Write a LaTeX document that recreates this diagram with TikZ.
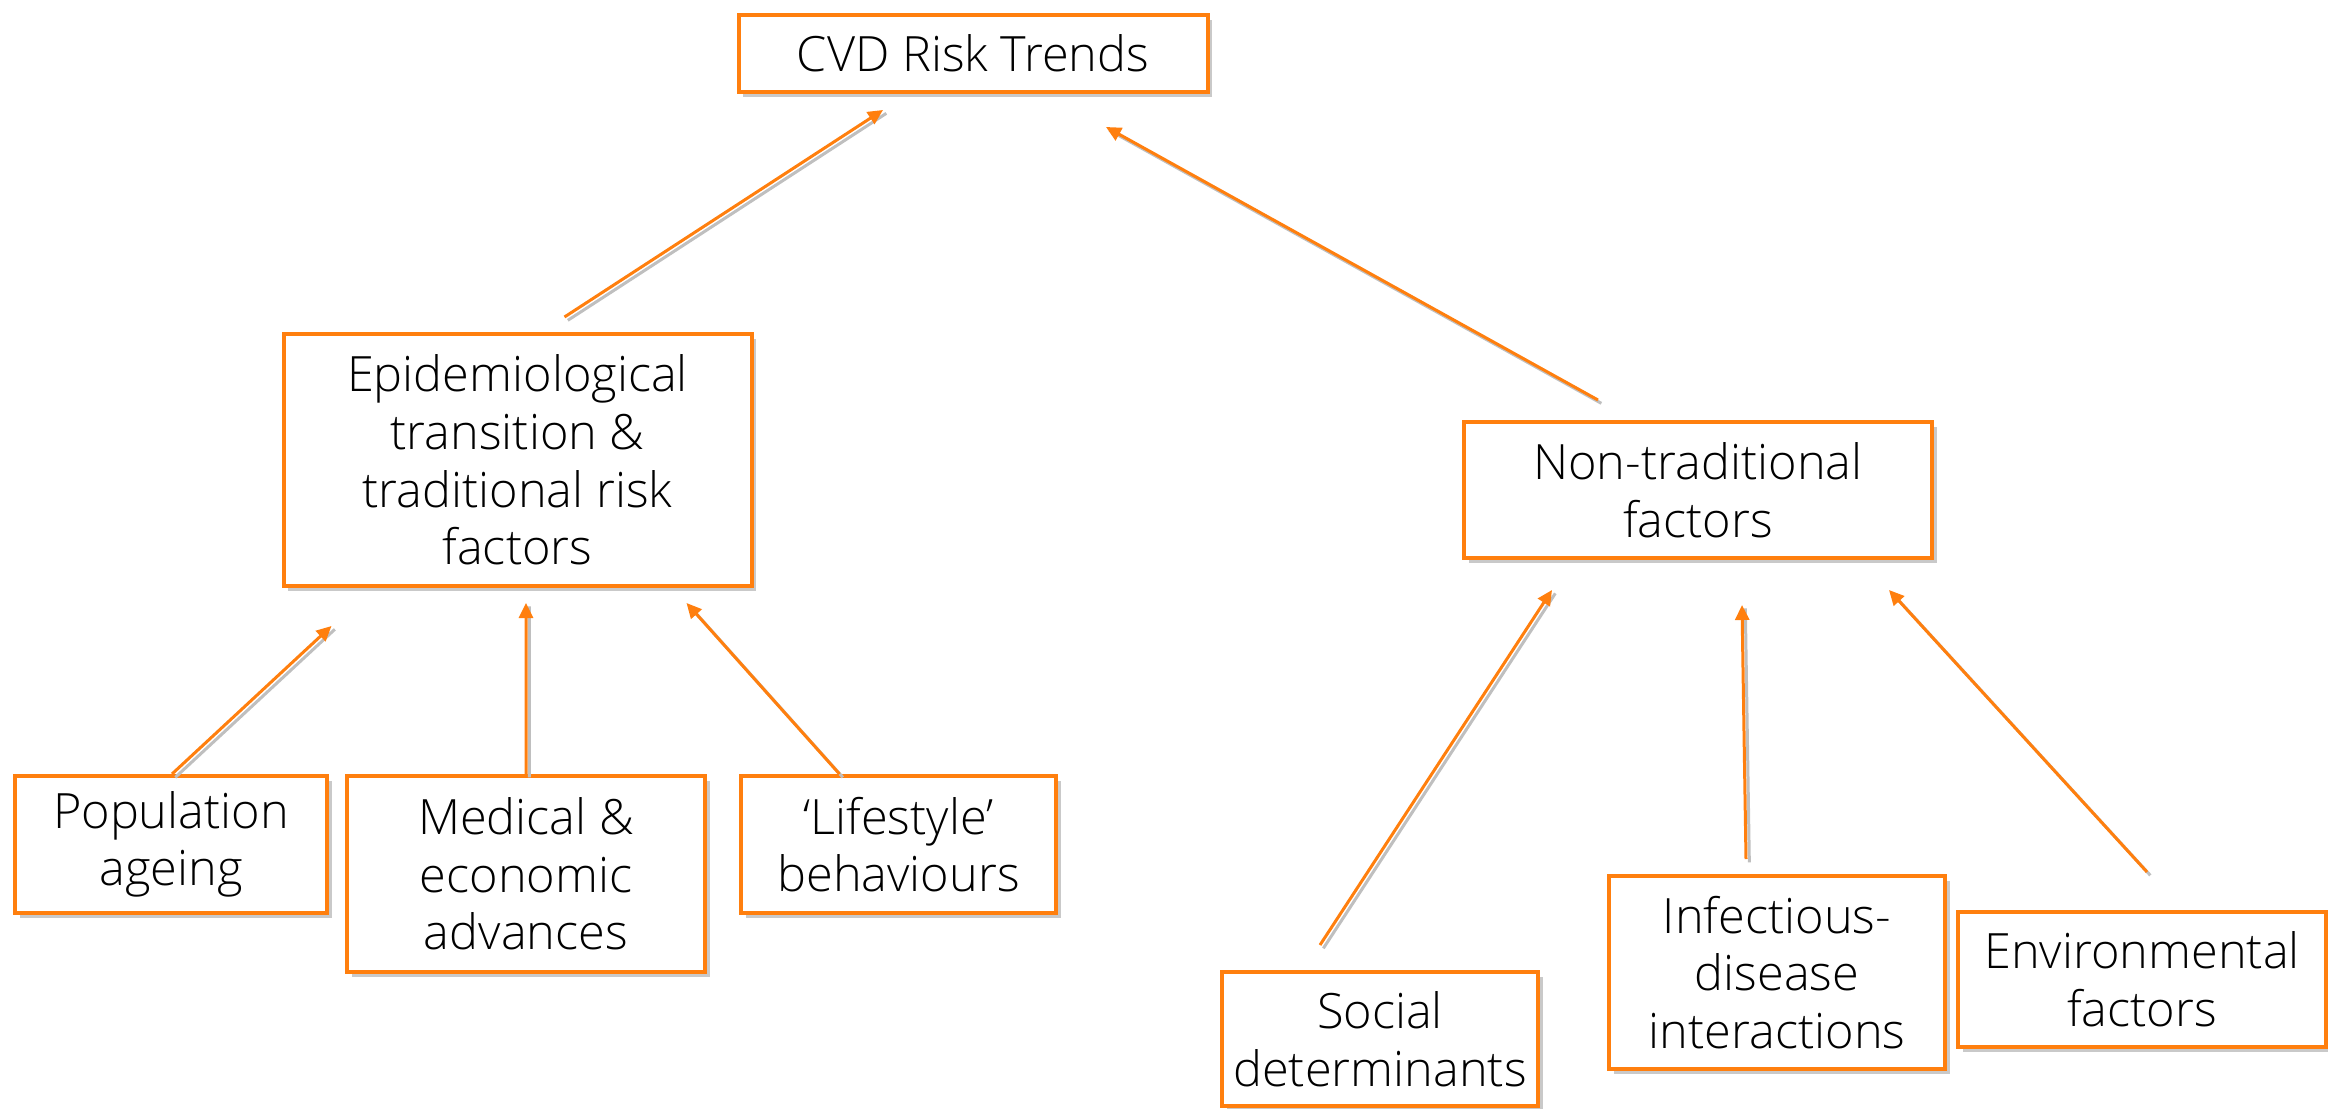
\documentclass[tikz,border=0pt]{standalone}
\usepackage{fontspec}
\setmainfont{Open Sans Light}
\usetikzlibrary{arrows.meta,shadows,calc}
\definecolor{boxorange}{RGB}{255,127,14}
\begin{document}
\begin{tikzpicture}[x=0.3pt,y=-0.3pt,
  box/.style={draw=boxorange, line width=1.2pt, fill=white, inner sep=0pt, align=center,
    font=\fontsize{14.6pt}{17.3pt}\selectfont,
    drop shadow={shadow xshift=1.4pt,shadow yshift=-1.4pt,opacity=0.3,fill=black!70}},
  link/.style={draw=boxorange, line width=0.9pt, -{Triangle[length=4.5pt,width=4.2pt]}}]
\useasboundingbox (0,0) rectangle (2328,1109);

\node[box, minimum width=140.7pt, minimum height=23.1pt] (cvd) at (973,53.5) {CVD Risk Trends};
\node[box, minimum width=140.4pt, minimum height=75.6pt] (epi) at (517.5,460) {Epidemiological\\transition \&\\traditional risk\\factors};
\node[box, minimum width=140.4pt, minimum height=40.8pt] (nontrad) at (1698,490) {Non-traditional\\factors};
\node[box, minimum width=93.6pt, minimum height=41.1pt] (pop) at (171,844.5) {Population\\ageing};
\node[box, minimum width=107.4pt, minimum height=58.8pt] (med) at (526,874) {Medical \&\\economic\\advances};
\node[box, minimum width=94.5pt, minimum height=41.1pt] (life) at (898.5,844.5) {‘Lifestyle’\\behaviours};
\node[box, minimum width=94.8pt, minimum height=40.2pt] (soc) at (1380,1039) {Social\\determinants};
\node[box, minimum width=100.8pt, minimum height=57.9pt] (inf) at (1777,972.5) {Infectious-\\disease\\interactions};
\node[box, minimum width=110.4pt, minimum height=40.5pt] (env) at (2142,979.5) {Environmental\\factors};

\coordinate (s1) at ($(epi.north)+(47,-15)$);
\coordinate (t1) at ($(cvd.south)+(-90,16)$);
\coordinate (s2) at ($(nontrad.north)+(-100,-20)$);
\coordinate (t2) at ($(cvd.south)+(133,33)$);
\coordinate (s3) at ($(pop.north)+(1,0)$);
\coordinate (t3) at ($(epi.south)+(-186,38)$);
\coordinate (s4) at ($(med.north)+(0,0)$);
\coordinate (t4) at ($(epi.south)+(8.5,15)$);
\coordinate (s5) at ($(life.north)+(-59,0)$);
\coordinate (t5) at ($(epi.south)+(169,15)$);
\coordinate (s6) at ($(soc.north)+(-60,-25)$);
\coordinate (t6) at ($(nontrad.south)+(-146,30)$);
\coordinate (s7) at ($(inf.north)+(-31,-15)$);
\coordinate (t7) at ($(nontrad.south)+(44,45)$);
\coordinate (s8) at ($(env.north)+(5,-38)$);
\coordinate (t8) at ($(nontrad.south)+(191,30)$);

\foreach \i in {1,...,8}{
  \draw[black!25, line width=0.9pt, transform canvas={shift={(1pt,-1pt)}}] (s\i) -- (t\i);
  \draw[link] (s\i) -- (t\i);
}
\end{tikzpicture}
\end{document}
